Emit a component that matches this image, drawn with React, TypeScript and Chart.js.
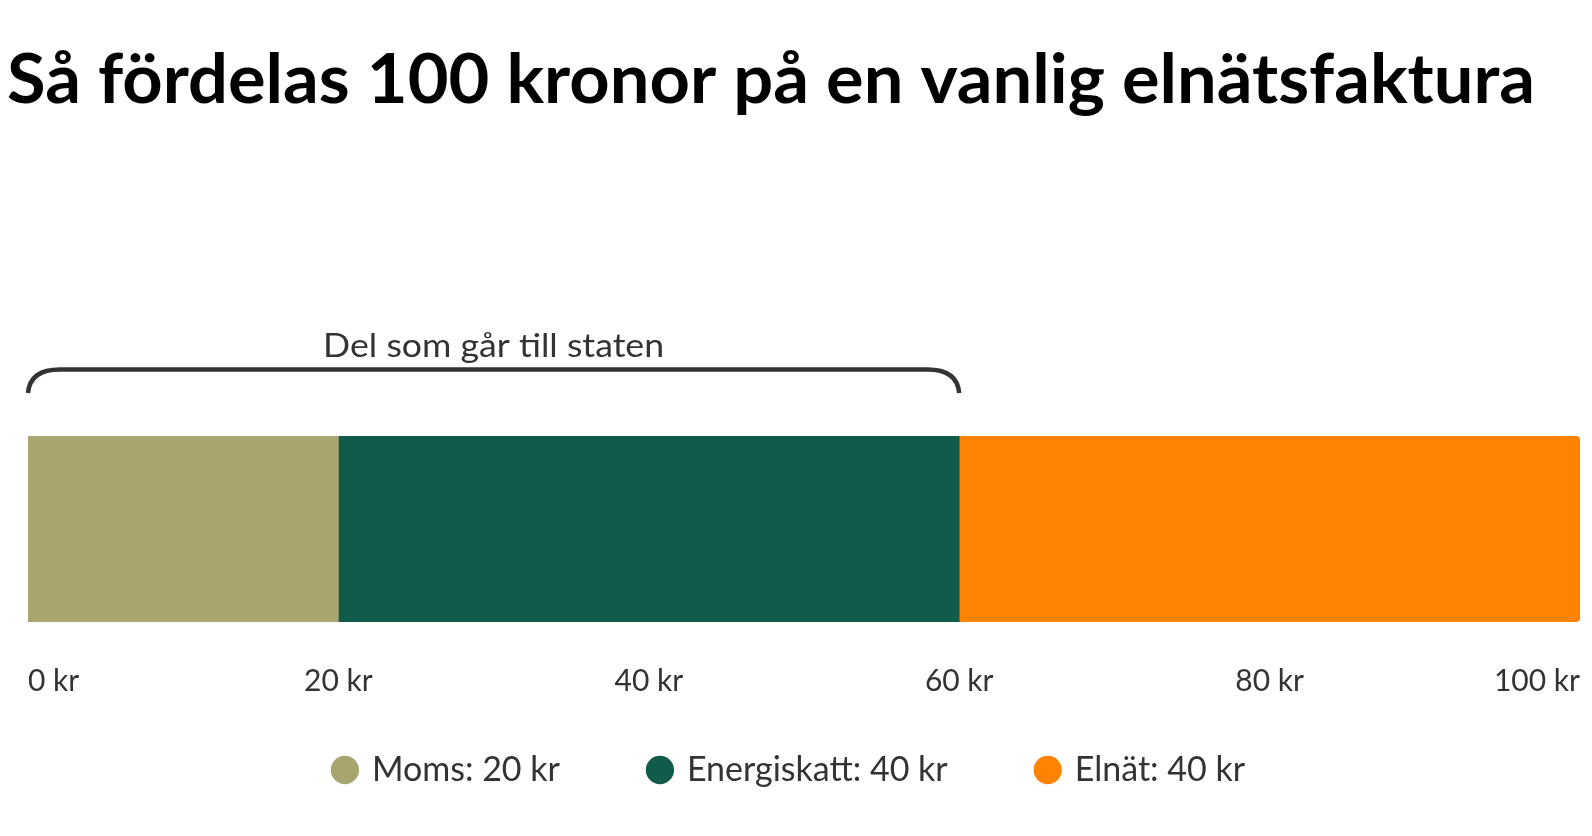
import React, { useEffect, useRef } from "react";
import { Chart, registerables } from "chart.js";

Chart.register(...registerables);

const TITLE = "Så fördelas 100 kronor på en vanlig elnätsfaktura";
const BRACKET_LABEL = "Del som går till staten";
const CATEGORIES = ["Elnätsfaktura"];
const SERIES_NAMES = ["Moms", "Energiskatt", "Elnät"];
const SERIES_VALUES = [20, 40, 40];
const SERIES_COLORS = ["#A9A571", "#115B4A", "#FF8303"];
const X_TICKS = [0, 20, 40, 60, 80, 100];
const BRACKET_RANGE = [0, 60];
const UNIT = "kr";

const FONT = "Lato";
const TEXT_COLOR = "#333333";
const LEGEND_FONT_SIZE = 34;
const LEGEND_PADDING = 90;

function fitText(ctx: CanvasRenderingContext2D, text: string, x: number, y: number, width: number, align: "left" | "center") {
  const w = ctx.measureText(text).width;
  ctx.save();
  ctx.translate(x, y);
  ctx.scale(width / w, 1);
  ctx.textAlign = align;
  ctx.fillText(text, 0, 0);
  ctx.restore();
}

const annotationPlugin = {
  id: "annotations",
  afterLayout(chart: any) {
    const lg = chart.legend;
    if (!lg) return;
    const desiredCenter = chart.chartArea.bottom + 148;
    const currentCenter = lg.top + LEGEND_PADDING + LEGEND_FONT_SIZE / 2;
    const d = currentCenter - desiredCenter;
    lg.top -= d;
    lg.bottom -= d;
    lg.left -= 14;
    lg.right -= 14;
  },
  afterDraw(chart: any) {
    const { ctx, chartArea, scales } = chart;
    const xs = scales.x;

    // Title
    ctx.save();
    ctx.font = `700 69px ${FONT}`;
    ctx.fillStyle = "#000000";
    ctx.textBaseline = "alphabetic";
    fitText(ctx, TITLE, 7, 103, 1528, "left");
    ctx.restore();

    // Bracket
    const x0 = xs.getPixelForValue(BRACKET_RANGE[0]);
    const x1 = xs.getPixelForValue(BRACKET_RANGE[1]);
    const yl = chartArea.top - 66.5;
    const yb = chartArea.top - 43;
    ctx.save();
    ctx.strokeStyle = "#333333";
    ctx.lineWidth = 4.5;
    ctx.beginPath();
    ctx.moveTo(x0, yb);
    ctx.quadraticCurveTo(x0 + 2, yl, x0 + 32, yl);
    ctx.lineTo(x1 - 32, yl);
    ctx.quadraticCurveTo(x1 - 2, yl, x1, yb);
    ctx.stroke();
    ctx.font = `33px ${FONT}`;
    ctx.fillStyle = TEXT_COLOR;
    ctx.textBaseline = "alphabetic";
    fitText(ctx, BRACKET_LABEL, (x0 + x1) / 2, chartArea.top - 79, 341, "center");
    ctx.restore();
  },
};

export default function App() {
  const canvasRef = useRef<HTMLCanvasElement | null>(null);

  useEffect(() => {
    if (!canvasRef.current) return;
    const last = SERIES_NAMES.length - 1;
    const chart = new Chart(canvasRef.current, {
      type: "bar",
      data: {
        labels: CATEGORIES,
        datasets: SERIES_NAMES.map((name, i) => ({
          label: `${name}: ${SERIES_VALUES[i]} ${UNIT}`,
          data: [SERIES_VALUES[i]],
          backgroundColor: SERIES_COLORS[i],
          borderWidth: 0,
          borderRadius:
            i === last
              ? { topLeft: 0, bottomLeft: 0, topRight: 5, bottomRight: 5 }
              : 0,
          barPercentage: 1,
          categoryPercentage: 1,
        })),
      },
      options: {
        indexAxis: "y",
        animation: false,
        responsive: true,
        maintainAspectRatio: false,
        events: [],
        layout: { padding: { top: 436, left: 28, right: 12, bottom: 2 } },
        scales: {
          x: {
            stacked: true,
            min: 0,
            max: 100,
            grid: { display: false, drawTicks: false },
            border: { display: false },
            afterBuildTicks: (scale: any) => {
              scale.ticks = X_TICKS.map((v) => ({ value: v }));
            },
            afterFit: (scale: any) => {
              scale.height = 78;
              scale.paddingLeft = 0;
              scale.paddingRight = 0;
            },
            ticks: {
              align: "inner",
              padding: 41,
              color: TEXT_COLOR,
              font: { family: FONT, size: 30 },
              maxRotation: 0,
              autoSkip: false,
              callback: (v: any) => `${v} ${UNIT}`,
            },
          },
          y: {
            stacked: true,
            display: false,
          },
        },
        plugins: {
          title: { display: false },
          tooltip: { enabled: false },
          legend: {
            display: true,
            position: "bottom",
            labels: {
              usePointStyle: true,
              pointStyle: "circle",
              boxWidth: 20,
              boxHeight: 20,
              padding: LEGEND_PADDING,
              color: TEXT_COLOR,
              font: { family: FONT, size: LEGEND_FONT_SIZE },
            },
          },
        },
      },
      plugins: [annotationPlugin],
    });
    return () => chart.destroy();
  }, []);

  return (
    <div
      style={{
        position: "absolute",
        left: 0,
        top: 0,
        width: 1592,
        height: 836,
        background: "#ffffff",
      }}
    >
      <canvas ref={canvasRef} />
    </div>
  );
}
